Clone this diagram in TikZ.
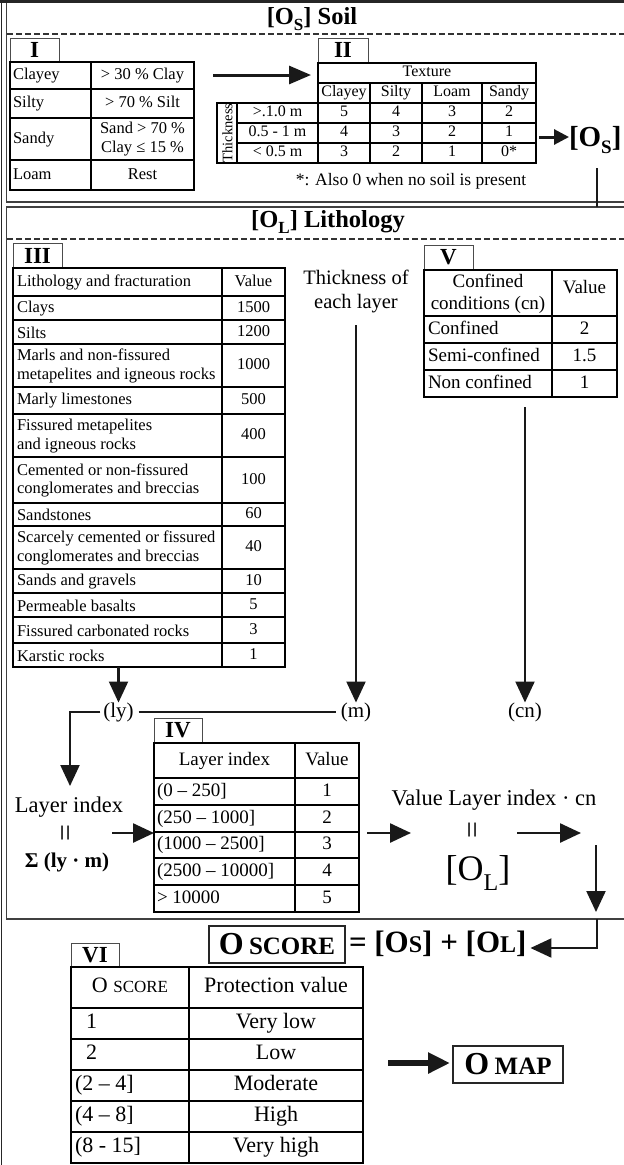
\documentclass[tikz,border=0pt]{standalone}
\usepackage{fontspec}
\setmainfont{Liberation Serif}
\usetikzlibrary{arrows.meta}
\newcommand\fsz[2]{\fontsize{#1bp}{#2bp}\selectfont}
\newcommand\lowsub[3]{\raisebox{-#2bp}{\fsz{#1}{#1}#3}}
\begin{document}
\begin{tikzpicture}[x=1bp,y=-1bp,
  every node/.style={inner sep=0pt,outer sep=0pt},
  frameline/.style={draw=black!75,line width=1.4bp},
  sepdash/.style={draw=black!80,line width=1.6bp,dash pattern=on 6bp off 3bp},
  tabnode/.style={draw=black!70,line width=1bp,fill=white,font=\fsz{23}{23}\bfseries,anchor=north west},
  tblframe/.style={draw=black,line width=#1,anchor=north west},
  tline/.style={draw=black,line width=#1},
  fA/.style={font=\fsz{16.5}{18.5},text height=11.5bp,text depth=3.5bp},
  fAm/.style={font=\fsz{16.5}{18.5},align=left},
  fB/.style={font=\fsz{16}{18},text height=11bp,text depth=3.5bp},
  fC/.style={font=\fsz{19}{21.5},text height=13bp,text depth=4bp},
  fD/.style={font=\fsz{21}{24},text height=14.5bp,text depth=4.5bp},
  fE/.style={font=\fsz{22}{25},text height=15bp,text depth=5bp},
  eqsym/.style={font=\fsz{30}{30},rotate=90},
  arrV/.style={draw=black!90,line width=2.2bp,-{Triangle[length=21bp,width=19bp]}},
  arrH/.style={draw=black!90,line width=2.5bp,-{Triangle[length=21bp,width=19bp]}},
  arrBig/.style={draw=black!90,line width=3bp,-{Triangle[length=22bp,width=18bp]}},
  arrSm/.style={draw=black!90,line width=3bp,-{Triangle[length=15bp,width=15bp]}},
  arrFat/.style={draw=black!90,line width=5.5bp,-{Triangle[length=22bp,width=20bp]}},
  conn/.style={draw=black!90,line width=2.2bp},
]
\useasboundingbox (0,0) rectangle (624,1165);
\fill[white] (0,0) rectangle (624,1165);

% ---------- outer frames ----------
\draw[line width=3bp,black!85] (0,1.5) -- (624,1.5);
\draw[line width=1.5bp,black!85] (1.5,0) -- (1.5,1165);
\draw[frameline] (624,202) -- (6.5,202) -- (6.5,3);
\draw[frameline] (624,207) -- (6.5,207) -- (6.5,919) -- (624,919);
\draw[sepdash] (7,34) -- (624,34);
\draw[sepdash] (7,239) -- (624,239);

% ---------- Soil ----------
\node[font=\fsz{24.5}{24.5}\bfseries] (soilT) at (312,19) {[O\lowsub{17}{5.5}{S}] Soil};

% Table I
\node[tabnode,minimum width=49bp,minimum height=24bp] (tabI) at (10,38) {I};
\node[tblframe=2.4bp,minimum width=184bp,minimum height=128bp] (tblI) at (10,62) {};
\draw[tline=2.4bp] (91,62) -- (91,190);
\foreach \yy in {89,118,160} \draw[tline=2.4bp] (10,\yy) -- (194,\yy);
\node[fA,anchor=west] (i1a) at (13,75.5) {Clayey};
\node[fA] (i1b) at (142.5,75.5) {> 30 \% Clay};
\node[fA,anchor=west] (i2a) at (13,103.5) {Silty};
\node[fA] (i2b) at (142.5,103.5) {> 70 \% Silt};
\node[fA,anchor=west] (i3a) at (13,139) {Sandy};
\node[font=\fsz{16.5}{18.5},align=center] (i3b) at (142.5,139) {Sand > 70 \%\\Clay ≤ 15 \%};
\node[fA,anchor=west] (i4a) at (13,175) {Loam};
\node[fA] (i4b) at (142.5,175) {Rest};

\coordinate (a1s) at (213,75);
\coordinate (a1e) at (311,75);
\draw[arrBig] (a1s) -- (a1e);

% Table II
\node[tabnode,minimum width=50bp,minimum height=24bp] (tabII) at (318,38) {II};
\node[tblframe=2bp,minimum width=218bp,minimum height=100bp] (tblII) at (318,63) {};
\draw[tline=2bp] (318,103) -- (217,103) -- (217,163) -- (318,163);
\draw[tline=2bp] (318,83) -- (536,83);
\draw[tline=2bp] (318,103) -- (536,103);
\draw[tline=2bp] (237,123) -- (536,123);
\draw[tline=2bp] (237,143) -- (536,143);
\draw[tline=2bp] (237,103) -- (237,163);
\draw[tline=2bp] (318,103) -- (318,163);
\foreach \xx in {370,422,482} \draw[tline=2bp] (\xx,83) -- (\xx,163);
\node[fB] (tex) at (427,73) {Texture};
\node[fB] (hc) at (344,93) {Clayey};
\node[fB] (hs) at (396,93) {Silty};
\node[fB] (hl) at (452,93) {Loam};
\node[fB] (hd) at (509,93) {Sandy};
\node[font=\fsz{14.5}{14.5},rotate=90] (thkv) at (227.5,133) {Thickness};
\node[fB] (r1) at (277.5,113) {>.1.0 m};
\node[fB] (r2) at (277.5,133) {0.5 - 1 m};
\node[fB] (r3) at (277.5,153) {< 0.5 m};
\foreach \v [count=\i] in {5,4,3,2} {
  \pgfmathsetmacro\cx{{344,396,452,509}[\i-1]}
  \node[fB] (v1\i) at (\cx,113) {\v};}
\foreach \v [count=\i] in {4,3,2,1} {
  \pgfmathsetmacro\cx{{344,396,452,509}[\i-1]}
  \node[fB] (v2\i) at (\cx,133) {\v};}
\foreach \v [count=\i] in {3,2,1,0*} {
  \pgfmathsetmacro\cx{{344,396,452,509}[\i-1]}
  \node[fB] (v3\i) at (\cx,153) {\v};}
\node[font=\fsz{17.5}{20}] (fn) at (411,181) {*: Also 0 when no soil is present};

\node[font=\fsz{29}{29}\bfseries,anchor=base west] (os) at (569,146) {[O\lowsub{19}{7}{S}]};
\coordinate (a2s) at (539,137);
\draw[arrSm] (a2s) -- (a2s -| os.west);
\coordinate (osd1) at (597,168);
\coordinate (osd2) at (597,207);
\draw[line width=2bp,black!90] (osd1) -- (osd2);

% ---------- Lithology ----------
\node[font=\fsz{24.5}{24.5}\bfseries] (lithT) at (328,222) {[O\lowsub{17}{5.5}{L}] Lithology};

% Table III
\node[tabnode,minimum width=49bp,minimum height=25bp] (tabIII) at (13,243) {III};
\node[tblframe=2.6bp,minimum width=272bp,minimum height=399bp] (tblIII) at (13,268) {};
\draw[tline=2.6bp] (222,268) -- (222,667);
\foreach \yy in {296,320,344,387,414,457,503,526,569,593,617,643}
  \draw[tline=2.6bp] (13,\yy) -- (285,\yy);
\node[fA,anchor=west] (h3a) at (17,282) {Lithology and fracturation};
\node[fA] (h3b) at (253.5,282) {Value};
\foreach \a/\b/\t/\v [count=\i] in {
  296/320/Clays/1500,
  320/344/Silts/1200,
  344/387/Marls and non-fissured\\metapelites and igneous rocks/1000,
  387/414/Marly limestones/500,
  414/457/Fissured metapelites\\and igneous rocks/400,
  457/503/Cemented or non-fissured\\conglomerates and  breccias/100,
  503/526/Sandstones/60,
  526/569/Scarcely cemented or fissured\\conglomerates and  breccias/40,
  569/593/Sands and gravels/10,
  593/617/Permeable basalts/5,
  617/643/Fissured carbonated rocks/3,
  643/667/Karstic rocks/1}
{
  \node[fAm,anchor=west] (l3\i) at (17,{(\a+\b)/2+0.5}) {\t};
  \node[fA] (w3\i) at (253.5,{(\a+\b)/2}) {\v};
}

% Thickness
\node[font=\fsz{20.5}{24},align=center] (thk) at (356,291) {Thickness of\\each layer};

% Table V
\node[tabnode,minimum width=49bp,minimum height=25bp] (tabV) at (424,245) {V};
\node[tblframe=2.2bp,minimum width=193bp,minimum height=127bp] (tblV) at (424,270) {};
\draw[tline=2.2bp] (552,270) -- (552,397);
\foreach \yy in {316,343,370} \draw[tline=2.2bp] (424,\yy) -- (617,\yy);
\node[font=\fsz{19}{21.5},align=center] (h5a) at (488,294) {Confined\\conditions (cn)};
\node[fC] (h5b) at (584.5,289) {Value};
\node[fC,anchor=west] (c1) at (428,329.5) {Confined};
\node[fC] (c1v) at (584.5,329.5) {2};
\node[fC,anchor=west] (c2) at (428,356.5) {Semi-confined};
\node[fC] (c2v) at (584.5,356.5) {1.5};
\node[fC,anchor=west] (c3) at (428,383.5) {Non confined};
\node[fC] (c3v) at (584.5,383.5) {1};

% (ly) (m) (cn)
\node[fD] (ly) at (118.5,712) {(ly)};
\node[fD] (m) at (356,712) {(m)};
\node[fD] (cn) at (525,712) {(cn)};
\draw[arrV] (ly.north |- tblIII.south) -- (ly.north);
\draw[arrV,shorten <=13bp] (thk.south) -- (m.north);
\draw[arrV,shorten <=10bp] (tblV.south -| cn.north) -- (cn.north);
\draw[conn,shorten <=5bp,shorten >=5bp] (ly.east) -- (m.west);

% Layer index (left)
\node[font=\fsz{22.5}{25}] (lidx) at (69,807) {Layer index};
\node[eqsym] (eqA) at (69,833) {=};
\node[font=\fsz{21}{24}\bfseries] (sig) at (67,862) {Σ (ly · m)};
\coordinate (lyc) at (70,712);
\coordinate (lyt) at (70,786);
\draw[arrV,shorten <=3bp] (ly.west) -- (lyc) -- (lyt);

% Table IV
\node[tabnode,minimum width=48bp,minimum height=25bp] (tabIV) at (154,718) {IV};
\node[tblframe=2.2bp,minimum width=205bp,minimum height=169bp] (tblIV) at (154,743) {};
\draw[tline=2.2bp] (295,743) -- (295,912);
\foreach \yy in {778,805,832,858,885} \draw[tline=2.2bp] (154,\yy) -- (359,\yy);
\node[fC] (h4a) at (224.5,760.5) {Layer index};
\node[fC] (h4b) at (327,760.5) {Value};
\foreach \a/\b/\t/\v [count=\i] in {
  778/805/(0 – 250]/1,
  805/832/(250 – 1000]/2,
  832/858/(1000 – 2500]/3,
  858/885/(2500 – 10000]/4,
  885/912/> 10000/5}
{
  \node[fC,anchor=west] (l4\i) at (157,{(\a+\b)/2}) {\t};
  \node[fC] (w4\i) at (327,{(\a+\b)/2}) {\v};
}
\coordinate (a4s) at (112,833);
\draw[arrH] (a4s) -- (a4s -| tblIV.west);

% Value Layer index . cn
\node[font=\fsz{22.5}{25}] (vli) at (494,800) {Value Layer index · cn};
\node[eqsym] (eqB) at (476,830) {=};
\node[font=\fsz{36}{36},anchor=base] (ol) at (478,880) {[O\lowsub{24}{10}{L}]};
\coordinate (a5s) at (367,833);
\coordinate (a5e) at (411,833);
\draw[arrH] (a5s) -- (a5e);
\coordinate (a6s) at (517,833);
\coordinate (a6e) at (581,833);
\draw[arrH] (a6s) -- (a6e);
\coordinate (a7s) at (596,845);
\coordinate (a7e) at (596,912);
\draw[arrV] (a7s) -- (a7e);

% ---------- O SCORE ----------
\node[draw=black!85,line width=1.8bp,minimum width=136bp,minimum height=37bp,font=\fsz{32}{32}\bfseries] (oscore) at (277,944.5) {O\,{\fsz{25}{25}SCORE}};
\node[font=\fsz{31}{31}\bfseries,anchor=west] (oeq) at (349,944) {= [O{\fsz{24}{24}S}] + [O{\fsz{24}{24}L}]};
\coordinate (b1) at (597,919);
\coordinate (b2) at (597,948);
\draw[arrV,shorten >=4bp] (b1) -- (b2) -- (b2 -| oeq.east);

% Table VI
\node[tabnode,minimum width=48bp,minimum height=24bp] (tabVI) at (71,943) {VI};
\node[tblframe=2.6bp,minimum width=292bp,minimum height=196bp] (tblVI) at (71,967) {};
\draw[tline=2.6bp] (189,967) -- (189,1163);
\foreach \yy in {1008,1039,1070,1101,1132} \draw[tline=2.6bp] (71,\yy) -- (363,\yy);
\node[fE] (h6a) at (130,987.5) {O {\fsz{17}{17}SCORE}};
\node[fE] (h6b) at (276,987.5) {Protection value};
\node[fE,anchor=west] (s1) at (86,1023.5) {1};
\node[fE,anchor=west] (s2) at (86,1054.5) {2};
\node[fE,anchor=west] (s3) at (75,1085.5) {(2 – 4]};
\node[fE,anchor=west] (s4) at (75,1116.5) {(4 – 8]};
\node[fE,anchor=west] (s5) at (75,1147.5) {(8 - 15]};
\node[fE] (p1) at (276,1023.5) {Very low};
\node[fE] (p2) at (276,1054.5) {Low};
\node[fE] (p3) at (276,1085.5) {Moderate};
\node[fE] (p4) at (276,1116.5) {High};
\node[fE] (p5) at (276,1147.5) {Very high};

% O MAP
\node[draw=black!85,line width=1.8bp,minimum width=110bp,minimum height=37bp,font=\fsz{32}{32}\bfseries] (omap) at (508,1064.5) {O\,{\fsz{25}{25}MAP}};
\coordinate (a8s) at (388,1063);
\draw[arrFat] (a8s) -- ([xshift=-3bp]a8s -| omap.west);
\end{tikzpicture}
\end{document}
